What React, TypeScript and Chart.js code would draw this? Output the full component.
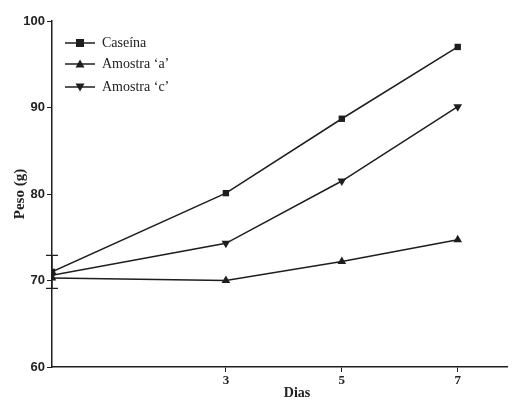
import React, { useEffect, useRef } from "react";
import { Chart, registerables } from "chart.js";
Chart.register(...registerables);

const days = [0, 3, 5, 7];
const xTicks = [3, 5, 7];
const yTicks = [60, 70, 80, 90, 100];
const caseina = [71.0, 80.1, 88.7, 97.0];
const amostraA = [70.3, 70.0, 72.2, 74.7];
const amostraC = [70.6, 74.3, 81.5, 90.1];
const caseinaErr = [1.9, 0, 0, 0];
const labels = ["Caseína", "Amostra ‘a’", "Amostra ‘c’"];

const ink = "#1e1e1e";

const legendPlugin = {
  id: "customLegend",
  afterDatasetsDraw(chart: any) {
    const ctx = chart.ctx;
    const xs = chart.scales.x;
    const ys = chart.scales.y;
    ctx.save();
    ctx.strokeStyle = ink;
    ctx.lineWidth = 1.2;
    days.forEach((d, i) => {
      const e = caseinaErr[i];
      if (!e) return;
      const px = xs.getPixelForValue(d);
      const top = ys.getPixelForValue(caseina[i] + e);
      const bot = ys.getPixelForValue(caseina[i] - e);
      ctx.beginPath();
      ctx.moveTo(px, top);
      ctx.lineTo(px, bot);
      ctx.moveTo(px - 6, top);
      ctx.lineTo(px + 6, top);
      ctx.moveTo(px - 6, bot);
      ctx.lineTo(px + 6, bot);
      ctx.stroke();
    });
    ctx.restore();
  },
  afterDraw(chart: any) {
    const ctx = chart.ctx;
    ctx.save();
    const rows = [43, 64, 87];
    chart.data.datasets.forEach((ds: any, i: number) => {
      const y = rows[i];
      ctx.strokeStyle = ink;
      ctx.lineWidth = 1.5;
      ctx.beginPath();
      ctx.moveTo(65, y);
      ctx.lineTo(95, y);
      ctx.stroke();
      ctx.fillStyle = ink;
      const cx = 80;
      ctx.beginPath();
      if (ds.pointStyle === "rect") {
        ctx.rect(cx - 4, y - 4, 8, 8);
      } else if (ds.pointRotation === 180) {
        ctx.moveTo(cx - 4.5, y - 3.5);
        ctx.lineTo(cx + 4.5, y - 3.5);
        ctx.lineTo(cx, y + 4.5);
        ctx.closePath();
      } else {
        ctx.moveTo(cx - 4.5, y + 3.5);
        ctx.lineTo(cx + 4.5, y + 3.5);
        ctx.lineTo(cx, y - 4.5);
        ctx.closePath();
      }
      ctx.fill();
      ctx.font = "14px 'Liberation Serif'";
      ctx.textBaseline = "middle";
      ctx.textAlign = "left";
      ctx.fillStyle = "#222";
      ctx.fillText(ds.label, 102, y);
    });
    ctx.font = "bold 14px 'Liberation Serif'";
    ctx.textAlign = "center";
    ctx.textBaseline = "middle";
    ctx.fillText("Dias", 297, 393);
    ctx.restore();
  },
};

export default function App() {
  const ref = useRef<HTMLCanvasElement>(null);
  useEffect(() => {
    document.body.style.margin = "0";
    const mk = (label: string, vals: number[], style: string, rot: number) => ({
      label,
      data: days.map((d, i) => ({ x: d, y: vals[i] })),
      borderColor: ink,
      backgroundColor: ink,
      borderWidth: 1.5,
      pointStyle: style,
      pointRotation: rot,
      pointRadius: style === "rect" ? 4.5 : 5,
      pointBorderWidth: 0,
      tension: 0,
    });
    const chart = new Chart(ref.current!, {
      type: "line",
      data: {
        datasets: [
          mk(labels[0], caseina, "rect", 0),
          mk(labels[1], amostraA, "triangle", 0),
          mk(labels[2], amostraC, "triangle", 180),
        ],
      },
      plugins: [legendPlugin],
      options: {
        animation: false,
        responsive: false,
        layout: { padding: { top: 21, right: 1, left: 11, bottom: 0 } },
        plugins: { legend: { display: false }, tooltip: { enabled: false } },
        scales: {
          x: {
            type: "linear",
            min: 0,
            max: 7.85,
            afterBuildTicks: (s: any) => {
              s.ticks = xTicks.map((v) => ({ value: v }));
            },
            afterFit: (s: any) => {
              s.height = 34;
            },
            grid: {
              drawOnChartArea: false,
              drawTicks: true,
              tickLength: 5,
              color: ink,
              lineWidth: 1,
            },
            border: { color: ink, width: 1.5 },
            ticks: {
              color: "#222",
              font: { family: "'Liberation Serif'", size: 13, weight: "bold" },
              padding: 1,
            },
          },
          y: {
            type: "linear",
            min: 60,
            max: 100,
            afterBuildTicks: (s: any) => {
              s.ticks = yTicks.map((v) => ({ value: v }));
            },
            afterFit: (s: any) => {
              s.width = 41;
            },
            grid: {
              drawOnChartArea: false,
              drawTicks: true,
              tickLength: 5,
              color: ink,
              lineWidth: 1,
            },
            border: { color: ink, width: 1.5 },
            ticks: {
              color: "#222",
              font: { family: "'Liberation Sans'", size: 13, weight: "bold" },
              padding: 2,
            },
            title: {
              display: true,
              text: "Peso (g)",
              color: "#222",
              font: { family: "'Liberation Serif'", size: 15, weight: "bold" },
              padding: 0,
            },
          },
        },
      },
    } as any);
    return () => chart.destroy();
  }, []);
  return <canvas ref={ref} width={512} height={401} style={{ display: "block" }} />;
}
